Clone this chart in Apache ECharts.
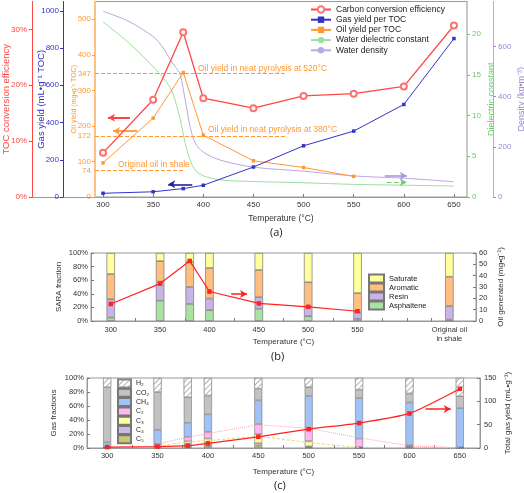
<!DOCTYPE html>
<html><head><meta charset="utf-8">
<script src="https://cdn.jsdelivr.net/npm/echarts@6/dist/echarts.min.js"></script>
<style>html,body{margin:0;padding:0;background:#fff}#c{width:524px;height:493px}</style>
</head><body><div id="c"></div>
<script>
// ---------- Panel (a) ----------
const tempA = [300,350,380,400,450,500,550,600,650];
const carbonEff = [7.9,17.4,29.5,17.7,15.9,18.1,18.5,19.8,30.7];       // %
const gasYield = [20,28,45,63,161,275,354,497,851];                    // mL/g TOC
const tempOil = [300,350,380,400,450,500,550];
const oilYield = [96,222,350,174,102,83,58];                           // mg/g TOC
const waterT = [300,325,350,360,367,372,377,382,387,392,400,417,450,500,550,600,650];
const dielectric = [21.5,19.0,16.0,14.6,13.4,11.8,9.5,6.6,4.5,3.3,2.6,2.1,1.9,1.75,1.55,1.45,1.35];
const density = [741,702,640,595,548,520,488,386,278,215,179,147,119,103,84,75,61];
const tempTicksA = [300,350,400,450,500,550,600,650];
const oilTickLabels = [0,74,100,172,200,300,347,400,500];
const oilRefLines = [347,172,74];

// ---------- Panel (b) ----------
const tempB = [300,350,380,400,450,500,550,643]; // 643 = slot of "Original oil in shale"
const tempLabelsB = [300,350,400,450,500,550,643];
const asphaltene = [5,30,25,16,18,7,3,2];
const resin = [27,28,25,17,17,14,10,20];
const aromatic = [37,30,37,45,40,36,28,43];
const saturate = [31,12,13,22,25,43,59,35];
const tempOilGen = [300,350,380,400,450,500,550];
const oilGenerated = [15,33,53,26,15.5,12.5,8.6];

// ---------- Panel (c) ----------
const tempC = [300,350,380,400,450,500,550,600,650];
const gasC5 = [0,1,2.4,2.9,3.4,1,0.3,0.5,0.2];
const gasC4 = [1,2,3.9,4.3,3.6,1.4,0.3,1.5,0.2];
const gasC3 = [0,1,3.3,6.3,13,7.6,0.8,0.5,0.2];
const gasC2 = [0.5,2,6.4,9.5,14,17,12,1.5,0.4];
const gasCH4 = [6.5,20,20,25,34,47.5,58,61,56];
const gasCO2 = [79,54,36.5,27,17,12.5,12,13,17];
const gasH2 = [13,20,27.5,25,15,13,16.6,22,26];
const totalGas = [2,3,5,10,24,40.4,53.4,74,127];
const tempPinkTrend = [350,380,400,450,500,550,600,650];
const pinkTrend = [9,23,31,50,42,22,4.5,0.5];
const tempYellowTrend = [350,380,400,450,500,550];
const yellowTrend = [4.5,13,16,25,12,1];

const F = 'Liberation Sans, Arial, sans-serif';
const RED='#ff4646', BLUE='#3434c2', ORANGE='#ff9933', GREEN='#9be09b', PURPLE='#b9a9e2';
const LRED='#ff2222';
const pairs = (xs, ys) => xs.map((x,i)=>[x, ys[i]]);
// hidden 1-degree category slots so stacked bars sit at their temperatures
const X0 = 280, X1 = 670;
const slots = []; for (let t = X0; t <= X1; t++) slots.push(String(t));
const slot = (xs, ys) => slots.map(s => { const i = xs.indexOf(+s); return i < 0 ? '-' : ys[i]; });
const arrowItem = (x1,y1,x2,y2,color,type,w) => [
  {coord:[x1,y1], symbol:'none', lineStyle:{color:color, width:w||1.6, type:type||'solid'}},
  {coord:[x2,y2], symbol:'arrow', symbolSize:[6,7]}
];

const chart = echarts.init(document.getElementById('c'));

function yAx(o){
  return Object.assign({
    type:'value', splitLine:{show:false}, nameMoveOverlap:false,
    axisLine:{show:true, lineStyle:{color:o.color, width:1}},
    axisTick:{show:true, inside:false, length:3, lineStyle:{color:o.color}},
    axisLabel:{color:o.color, fontSize:8, fontFamily:F, margin:4},
    nameLocation:'middle', nameTextStyle:{color:o.color, fontSize:9, fontFamily:F}
  }, o.extra);
}
const plain = v => String(v);

const option = {
  animation:false,
  backgroundColor:'#fff',
  textStyle:{fontFamily:F},
  grid:[
    {left:95, top:1.5, width:372, height:195.5, show:true, borderColor:'#999', borderWidth:1, outerBoundsMode:'none', containLabel:false},
    {left:91, top:253, width:385, height:68, show:true, borderColor:'#999', borderWidth:1, outerBoundsMode:'none', containLabel:false},
    {left:87, top:378, width:393, height:70, show:true, borderColor:'#999', borderWidth:1, outerBoundsMode:'none', containLabel:false}
  ],
  xAxis:[
    {gridIndex:0, type:'value', min:292, max:663, splitLine:{show:false}, nameMoveOverlap:false,
     axisLine:{lineStyle:{color:'#999'}},
     axisTick:{inside:true, length:3, customValues:tempTicksA, lineStyle:{color:'#777'}},
     axisLabel:{customValues:tempTicksA, fontSize:8, color:'#333', margin:4, formatter:plain},
     name:'Temperature (°C)', nameLocation:'middle', nameGap:17, nameTextStyle:{fontSize:8.5, color:'#333'}},
    {gridIndex:1, type:'value', min:X0, max:X1, splitLine:{show:false}, nameMoveOverlap:false,
     axisLine:{lineStyle:{color:'#999'}},
     axisTick:{inside:true, length:3, customValues:[300,325,350,375,400,425,450,475,500,525,550,575,600,625], lineStyle:{color:'#777'}},
     axisLabel:{customValues:tempLabelsB, fontSize:7.5, color:'#333', margin:4, lineHeight:9,
       formatter:v => v===643 ? 'Original oil\nin shale' : String(v)},
     name:'Temperature (°C)', nameLocation:'middle', nameGap:17, nameTextStyle:{fontSize:8, color:'#333'}},
    {gridIndex:2, type:'value', min:X0, max:X1, splitLine:{show:false}, nameMoveOverlap:false,
     axisLine:{lineStyle:{color:'#999'}},
     axisTick:{inside:true, length:3, customValues:[300,325,350,375,400,425,450,475,500,525,550,575,600,625,650], lineStyle:{color:'#777'}},
     axisLabel:{customValues:tempTicksA, fontSize:7.5, color:'#333', margin:4, formatter:plain},
     name:'Temperature (°C)', nameLocation:'middle', nameGap:20, nameTextStyle:{fontSize:8, color:'#333'}},
    {gridIndex:1, type:'category', data:slots, boundaryGap:false, show:false},
    {gridIndex:2, type:'category', data:slots, boundaryGap:false, show:false}
  ],
  yAxis:[
    yAx({color:ORANGE, extra:{gridIndex:0, position:'left', offset:0, min:0, max:550, interval:100,
      axisLine:{show:true, lineStyle:{color:'#ffc080', width:2}},
      axisTick:{show:true, length:3, customValues:[0,100,200,300,400,500], lineStyle:{color:ORANGE}},
      axisLabel:{color:ORANGE, fontSize:8, margin:4, customValues:oilTickLabels, formatter:plain},
      name:'Oil yield (mg•g⁻¹ TOC)', nameGap:17, nameTextStyle:{color:ORANGE, fontSize:7, fontFamily:F}}}),
    yAx({color:BLUE, extra:{gridIndex:0, position:'left', offset:32, min:0, max:1050, interval:200,
      axisLabel:{color:BLUE, fontSize:8, margin:4, showMaxLabel:false, formatter:plain},
      name:'Gas yield (mL•g⁻¹ TOC)', nameGap:17, nameTextStyle:{color:BLUE, fontSize:9.5, fontFamily:F}}}),
    yAx({color:RED, extra:{gridIndex:0, position:'left', offset:63, min:0, max:35, interval:10,
      axisLabel:{color:RED, fontSize:8, margin:5, showMaxLabel:false, formatter:'{value}%'},
      name:'TOC conversion efficiency', nameGap:21, nameTextStyle:{color:RED, fontSize:9.5, fontFamily:F}}}),
    yAx({color:'#66cc66', extra:{gridIndex:0, position:'right', offset:0, min:0, max:24, interval:5,
      axisLine:{show:true, lineStyle:{color:GREEN, width:1}},
      axisLabel:{color:'#66cc66', fontSize:8, margin:5, showMaxLabel:false, formatter:plain},
      name:'Dielectric constant', nameGap:20, nameTextStyle:{color:'#66cc66', fontSize:9, fontFamily:F}}}),
    yAx({color:'#9d88d0', extra:{gridIndex:0, position:'right', offset:26, min:0, max:780, interval:200,
      axisLine:{show:true, lineStyle:{color:PURPLE, width:1}},
      axisLabel:{color:'#9d88d0', fontSize:8, margin:5, showMaxLabel:false, formatter:plain},
      name:'Density (kg•m⁻³)', nameGap:24, nameTextStyle:{color:'#9d88d0', fontSize:9, fontFamily:F}}}),
    // panel b
    yAx({color:'#333', extra:{gridIndex:1, position:'left', min:0, max:100, interval:20,
      axisLine:{show:true, lineStyle:{color:'#999'}},
      axisTick:{show:true, inside:true, length:3, lineStyle:{color:'#777'}},
      axisLabel:{color:'#333', fontSize:7.5, margin:3, formatter:'{value}%'},
      name:'SARA fraction', nameGap:28, nameTextStyle:{color:'#333', fontSize:8, fontFamily:F}}}),
    yAx({color:'#333', extra:{gridIndex:1, position:'right', min:0, max:60, interval:10,
      axisLine:{show:true, lineStyle:{color:'#999'}},
      axisTick:{show:true, inside:true, length:3, lineStyle:{color:'#777'}},
      axisLabel:{color:'#333', fontSize:7.5, margin:3, formatter:plain},
      name:'Oil generated (mg•g⁻¹)', nameGap:21, nameTextStyle:{color:'#333', fontSize:8, fontFamily:F}}}),
    // panel c
    yAx({color:'#333', extra:{gridIndex:2, position:'left', min:0, max:100, interval:20,
      axisLine:{show:true, lineStyle:{color:'#999'}},
      axisTick:{show:true, inside:true, length:3, lineStyle:{color:'#777'}},
      axisLabel:{color:'#333', fontSize:7.5, margin:3, formatter:'{value}%'},
      name:'Gas fractions', nameGap:29, nameTextStyle:{color:'#333', fontSize:8, fontFamily:F}}}),
    yAx({color:'#333', extra:{gridIndex:2, position:'right', min:0, max:150, interval:50,
      axisLine:{show:true, lineStyle:{color:'#999'}},
      axisTick:{show:true, inside:true, length:3, lineStyle:{color:'#777'}},
      axisLabel:{color:'#333', fontSize:7.5, margin:4, formatter:plain},
      name:'Total gas yield (mL•g⁻¹)', nameGap:24, nameTextStyle:{color:'#333', fontSize:8, fontFamily:F}}})
  ],
  legend:[
    {orient:'vertical', left:310, top:5, padding:0, itemWidth:20, itemHeight:8, itemGap:1.2, selectedMode:false,
     textStyle:{fontSize:8.5, color:'#222', fontFamily:F},
     data:['Carbon conversion efficiency','Gas yield per TOC','Oil yield per TOC','Water dielectric constant','Water density']},
    {orient:'vertical', left:368, top:273.5, padding:0, itemWidth:15, itemHeight:8, itemGap:-1, selectedMode:false, icon:'rect',
     textStyle:{fontSize:7.5, color:'#222', fontFamily:F},
     data:['Saturate','Aromatic','Resin','Asphaltene']},
    {orient:'vertical', left:117, top:378.5, padding:0, itemWidth:13, itemHeight:8, itemGap:-0.7, selectedMode:false, icon:'rect',
     textStyle:{fontSize:7, color:'#222', fontFamily:F},
     data:['H₂','CO₂','CH₄','C₂','C₃','C₄','C₅']}
  ],
  series:[
    {name:'Water dielectric constant', type:'line', xAxisIndex:0, yAxisIndex:3, smooth:0.3, showSymbol:false, symbol:'none',
     data:pairs(waterT, dielectric), lineStyle:{color:GREEN, width:1}, itemStyle:{color:GREEN},
     markLine:{silent:true, symbol:['none','none'], label:{show:false},
       data:[arrowItem(583,1.8,603,1.8,'#77cc77','dashed',1.2)]}},
    {name:'Water density', type:'line', xAxisIndex:0, yAxisIndex:4, smooth:0.3, showSymbol:false, symbol:'none',
     data:pairs(waterT, density), lineStyle:{color:PURPLE, width:1}, itemStyle:{color:PURPLE},
     markLine:{silent:true, symbol:['none','none'], label:{show:false},
       data:[arrowItem(581,85,603,85,'#a898d8','solid',1.6)]}},
    {name:'Oil yield per TOC', type:'line', xAxisIndex:0, yAxisIndex:0, symbol:'rect', symbolSize:3.5,
     data:pairs(tempOil, oilYield), lineStyle:{color:ORANGE, width:1}, itemStyle:{color:ORANGE}, z:4,
     markLine:{silent:true, symbol:['none','none'], label:{show:false}, lineStyle:{color:ORANGE, type:'dashed', width:1},
       data:[
         [{coord:[292,oilRefLines[0]]},{coord:[481,oilRefLines[0]]}],
         [{coord:[292,oilRefLines[1]]},{coord:[483,oilRefLines[1]]}],
         [{coord:[292,oilRefLines[2]]},{coord:[382,oilRefLines[2]]}],
         arrowItem(334,186,310,186,ORANGE,'solid',1.8)
       ]}},
    {name:'Gas yield per TOC', type:'line', xAxisIndex:0, yAxisIndex:1, symbol:'rect', symbolSize:3.5,
     data:pairs(tempA, gasYield), lineStyle:{color:BLUE, width:1}, itemStyle:{color:BLUE}, z:4,
     markLine:{silent:true, symbol:['none','none'], label:{show:false},
       data:[arrowItem(389,68,365,68,'#2020a0','solid',1.6)]}},
    {name:'Carbon conversion efficiency', type:'line', xAxisIndex:0, yAxisIndex:2, symbol:'emptyCircle', symbolSize:6,
     data:pairs(tempA, carbonEff), lineStyle:{color:RED, width:1.3}, itemStyle:{color:'#ff7070', borderWidth:0.9}, z:5,
     markLine:{silent:true, symbol:['none','none'], label:{show:false},
       data:[arrowItem(327,14.2,305,14.2,RED,'solid',2)]}},

    // panel b bars
    {name:'Asphaltene', type:'bar', xAxisIndex:3, yAxisIndex:5, stack:'sara', barWidth:8.5, data:slot(tempB, asphaltene),
     itemStyle:{color:'#a9e3a3', borderColor:'#777', borderWidth:0.7}},
    {name:'Resin', type:'bar', xAxisIndex:3, yAxisIndex:5, stack:'sara', barWidth:8.5, data:slot(tempB, resin),
     itemStyle:{color:'#c8b5e6', borderColor:'#777', borderWidth:0.7}},
    {name:'Aromatic', type:'bar', xAxisIndex:3, yAxisIndex:5, stack:'sara', barWidth:8.5, data:slot(tempB, aromatic),
     itemStyle:{color:'#ffbf80', borderColor:'#777', borderWidth:0.7}},
    {name:'Saturate', type:'bar', xAxisIndex:3, yAxisIndex:5, stack:'sara', barWidth:8.5, data:slot(tempB, saturate),
     itemStyle:{color:'#ffff9e', borderColor:'#777', borderWidth:0.7}},
    {name:'Oil generated', type:'line', xAxisIndex:1, yAxisIndex:6, symbol:'rect', symbolSize:4.5, z:10,
     data:pairs(tempOilGen, oilGenerated), lineStyle:{color:LRED, width:1.2}, itemStyle:{color:LRED},
     markLine:{silent:true, symbol:['none','none'], label:{show:false},
       data:[arrowItem(422,23.8,438,23.8,LRED,'solid',1.5)]}},

    // panel c bars
    {name:'C₅', type:'bar', xAxisIndex:4, yAxisIndex:7, stack:'gas', barWidth:8, data:slot(tempC, gasC5),
     itemStyle:{color:'#caca6c', borderColor:'#777', borderWidth:0.6}},
    {name:'C₄', type:'bar', xAxisIndex:4, yAxisIndex:7, stack:'gas', barWidth:8, data:slot(tempC, gasC4),
     itemStyle:{color:'#cdbbe5', borderColor:'#777', borderWidth:0.6}},
    {name:'C₃', type:'bar', xAxisIndex:4, yAxisIndex:7, stack:'gas', barWidth:8, data:slot(tempC, gasC3),
     itemStyle:{color:'#ffff9e', borderColor:'#777', borderWidth:0.6}},
    {name:'C₂', type:'bar', xAxisIndex:4, yAxisIndex:7, stack:'gas', barWidth:8, data:slot(tempC, gasC2),
     itemStyle:{color:'#ffb6f2', borderColor:'#777', borderWidth:0.6}},
    {name:'CH₄', type:'bar', xAxisIndex:4, yAxisIndex:7, stack:'gas', barWidth:8, data:slot(tempC, gasCH4),
     itemStyle:{color:'#a0c2f6', borderColor:'#777', borderWidth:0.6}},
    {name:'CO₂', type:'bar', xAxisIndex:4, yAxisIndex:7, stack:'gas', barWidth:8, data:slot(tempC, gasCO2),
     itemStyle:{color:'#c2c2c2', borderColor:'#777', borderWidth:0.6}},
    {name:'H₂', type:'bar', xAxisIndex:4, yAxisIndex:7, stack:'gas', barWidth:8, data:slot(tempC, gasH2),
     itemStyle:{color:'#ffffff', borderColor:'#888', borderWidth:0.6,
       decal:{symbol:'rect', dashArrayX:[1,0], dashArrayY:[1,2.5], rotation:-Math.PI/4, color:'#b0b0b0', backgroundColor:'#fff'}}},
    {name:'C₂ trend', type:'line', xAxisIndex:2, yAxisIndex:8, symbol:'none', smooth:false,
     data:pairs(tempPinkTrend, pinkTrend), lineStyle:{color:'#ffa0a8', width:1, type:'dotted'}, z:3},
    {name:'C₃ trend', type:'line', xAxisIndex:2, yAxisIndex:8, symbol:'none',
     data:pairs(tempYellowTrend, yellowTrend), lineStyle:{color:'#e6dc70', width:1, type:[3,2]}, z:3},
    {name:'Total gas yield', type:'line', xAxisIndex:2, yAxisIndex:8, symbol:'rect', symbolSize:4.5, z:10, smooth:0.2,
     data:pairs(tempC, totalGas), lineStyle:{color:LRED, width:1.3}, itemStyle:{color:LRED},
     markLine:{silent:true, symbol:['none','none'], label:{show:false},
       data:[arrowItem(616,83.6,641,83.6,LRED,'solid',1.5)]}}
  ],
  graphic:[
    {type:'line', shape:{x1:32, y1:197.5, x2:95, y2:197.5}, style:{stroke:'#999', lineWidth:1}},
    {type:'text', left:198, top:64, style:{text:'Oil yield in neat pyrolysis at 520°C', fill:ORANGE, fontSize:8.5, fontFamily:F}},
    {type:'text', left:208, top:125, style:{text:'Oil yield in neat pyrolysis at 380°C', fill:ORANGE, fontSize:8.5, fontFamily:F}},
    {type:'text', left:118, top:160, style:{text:'Original oil in shale', fill:ORANGE, fontSize:8.5, fontFamily:F}},
    {type:'text', left:270, top:227, style:{text:'(a)', fill:'#222', fontSize:11, fontFamily:'Open Sans, sans-serif'}},
    {type:'text', left:271, top:351, style:{text:'(b)', fill:'#222', fontSize:11, fontFamily:'Open Sans, sans-serif'}},
    {type:'text', left:274, top:480, style:{text:'(c)', fill:'#222', fontSize:11, fontFamily:'Open Sans, sans-serif'}}
  ]
};
chart.setOption(option);
</script></body></html>
